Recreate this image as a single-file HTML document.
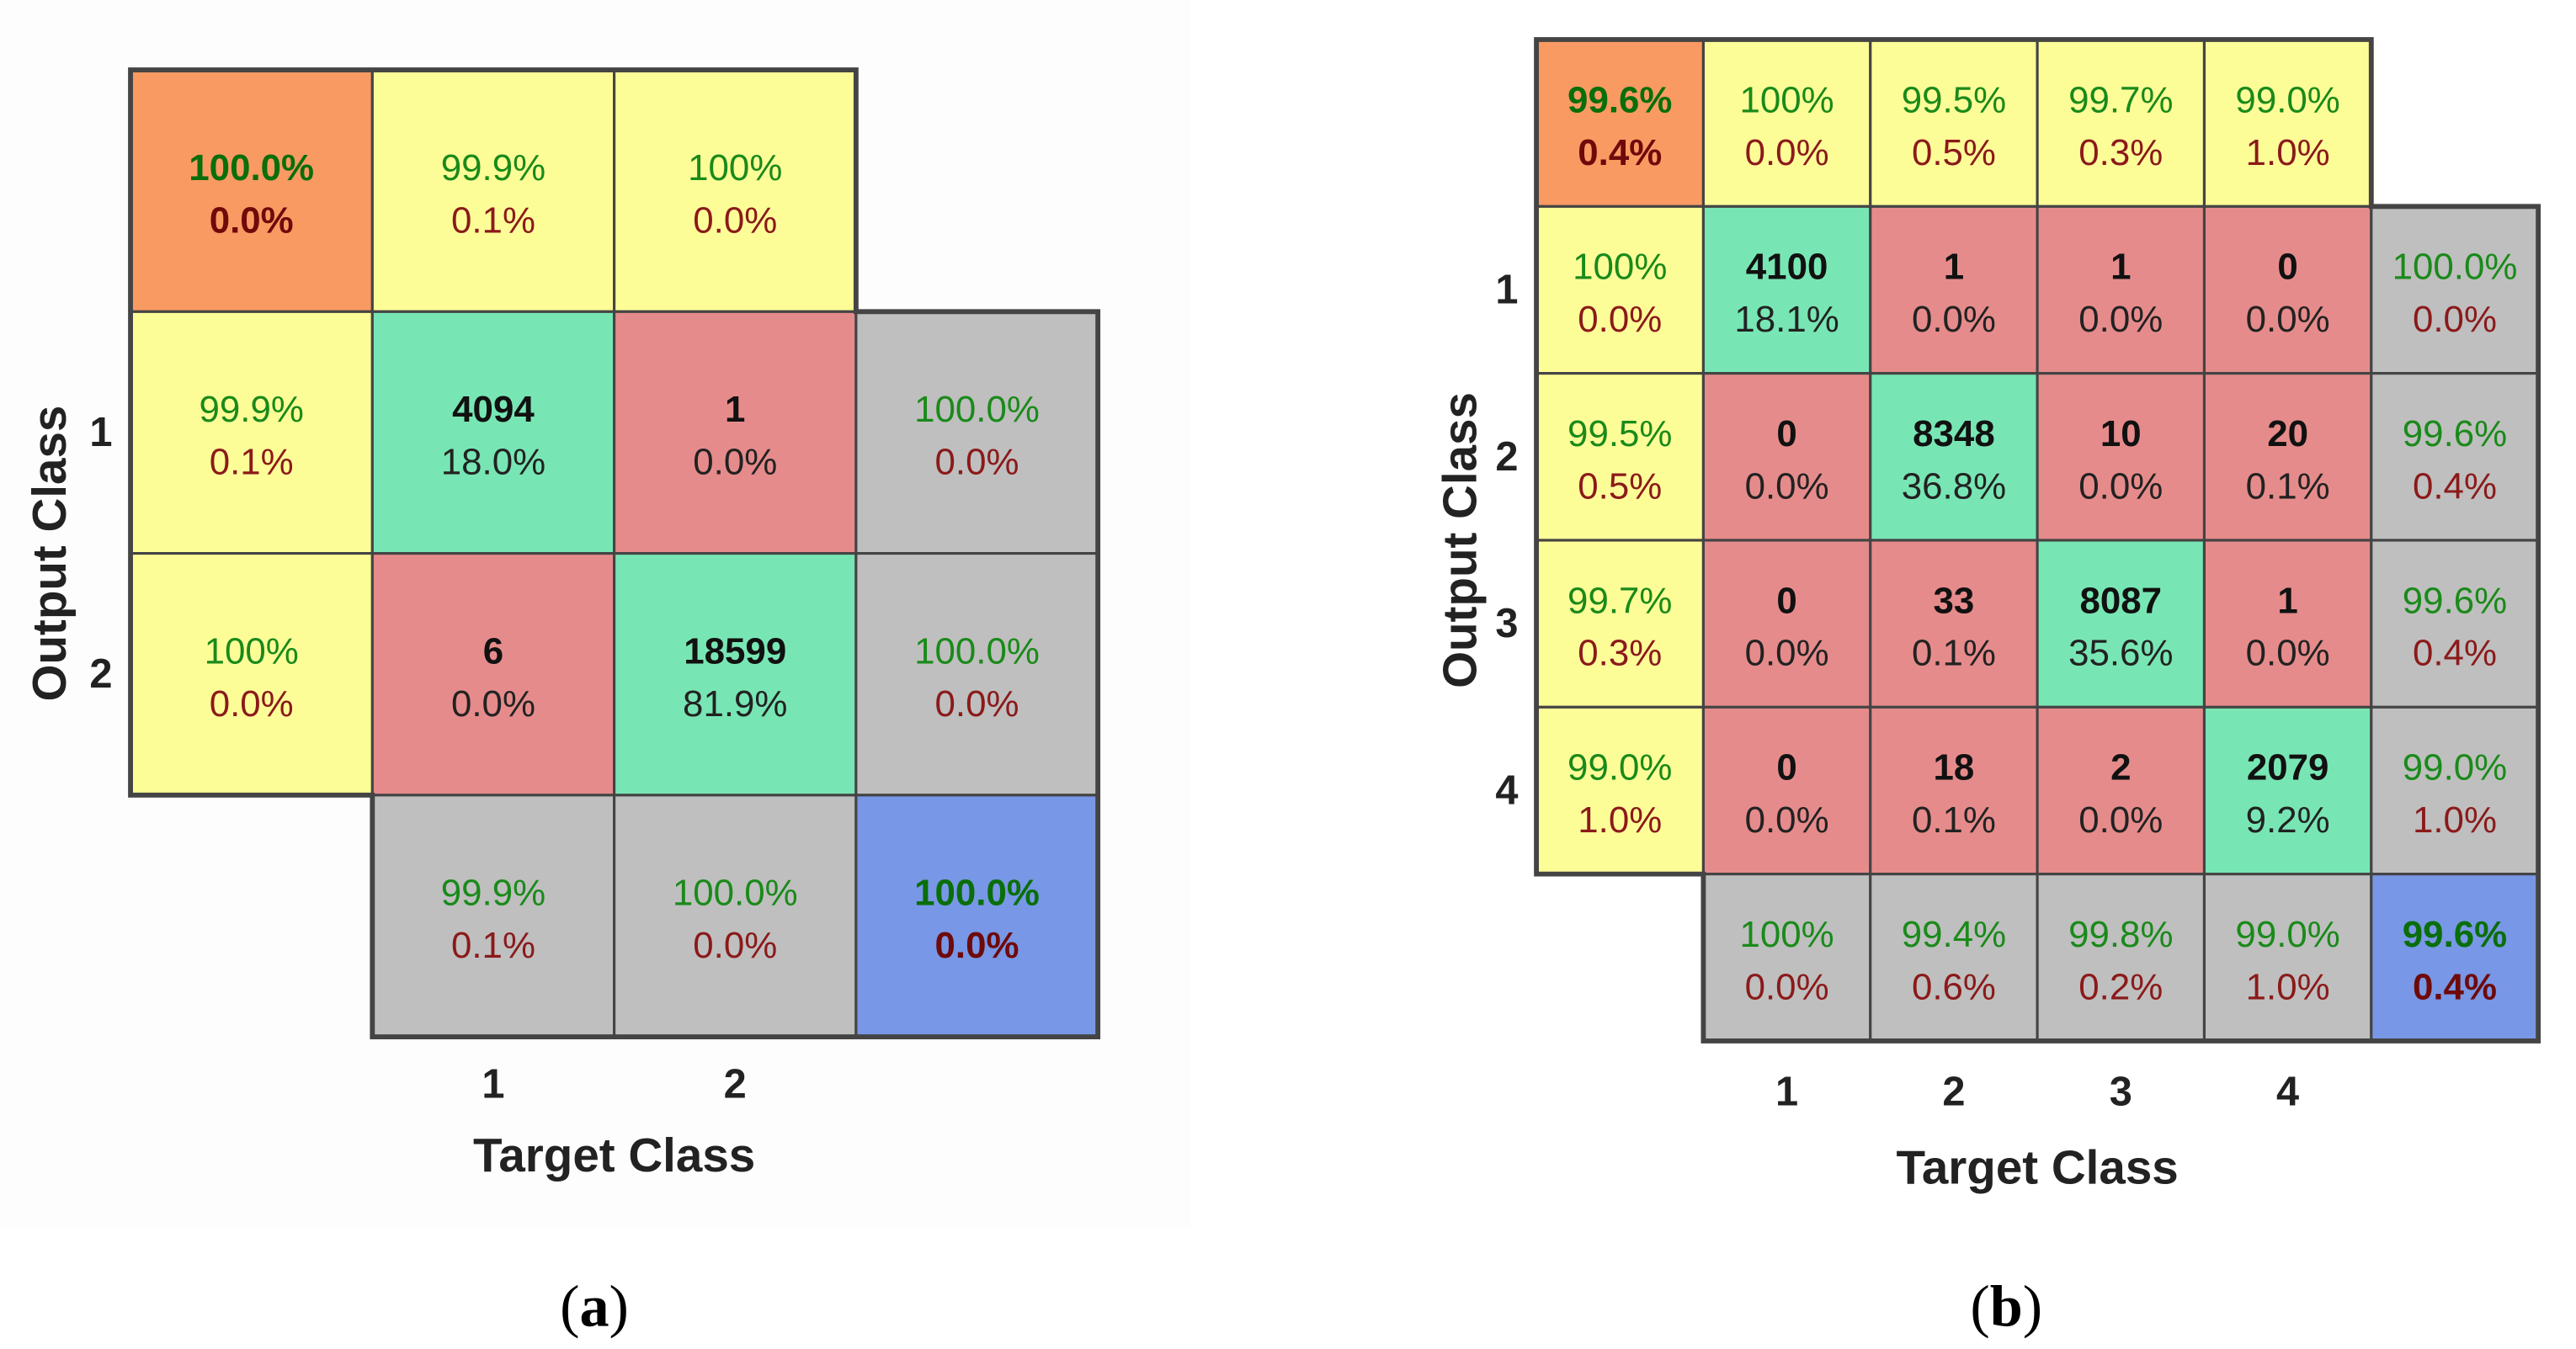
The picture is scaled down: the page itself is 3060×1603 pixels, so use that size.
<!DOCTYPE html>
<html><head><meta charset="utf-8"><style>
html,body{margin:0;padding:0;background:#fff;}
svg{display:block;}
text{font-family:"Liberation Sans",Arial,sans-serif;}
</style></head><body>
<svg id="fig" width="3060" height="1603" viewBox="0 0 1569 822" preserveAspectRatio="none" xmlns="http://www.w3.org/2000/svg">
<rect x="0" y="0" width="725" height="748" fill="#fdfdfd"/>
<g id="pa"></g>
<g id="pb"></g>
<text x="362" y="808" text-anchor="middle" font-size="36" style="font-family:'Liberation Serif',serif">(<tspan font-weight="bold">a</tspan>)</text>
<text x="1222" y="808" text-anchor="middle" font-size="36" style="font-family:'Liberation Serif',serif">(<tspan font-weight="bold">b</tspan>)</text>
</svg>
<script>
// Panel A data
const classesA = ["1","2"];
const countsA = [[4094,1],[6,18599]];
const cellPctA = [["18.0%","0.0%"],["0.0%","81.9%"]];
const rowGoodA = ["100.0%","100.0%"];
const rowBadA = ["0.0%","0.0%"];
const leftGoodA = ["99.9%","100%"];
const leftBadA = ["0.1%","0.0%"];
const colGoodA = ["99.9%","100.0%"];
const colBadA = ["0.1%","0.0%"];
const topGoodA = ["99.9%","100%"];
const topBadA = ["0.1%","0.0%"];
const overallA = ["100.0%","0.0%"];
const cornerA = ["100.0%","0.0%"];
// Panel B data
const classesB = ["1","2","3","4"];
const countsB = [[4100,1,1,0],[0,8348,10,20],[0,33,8087,1],[0,18,2,2079]];
const cellPctB = [["18.1%","0.0%","0.0%","0.0%"],["0.0%","36.8%","0.0%","0.1%"],["0.0%","0.1%","35.6%","0.0%"],["0.0%","0.1%","0.0%","9.2%"]];
const rowGoodB = ["100.0%","99.6%","99.6%","99.0%"];
const rowBadB = ["0.0%","0.4%","0.4%","1.0%"];
const leftGoodB = ["100%","99.5%","99.7%","99.0%"];
const leftBadB = ["0.0%","0.5%","0.3%","1.0%"];
const colGoodB = ["100%","99.4%","99.8%","99.0%"];
const colBadB = ["0.0%","0.6%","0.2%","1.0%"];
const topGoodB = ["100%","99.5%","99.7%","99.0%"];
const topBadB = ["0.0%","0.5%","0.3%","1.0%"];
const overallB = ["99.6%","0.4%"];
const cornerB = ["99.6%","0.4%"];

const NS="http://www.w3.org/2000/svg";
function mk(tag,attrs,parent){const e=document.createElementNS(NS,tag);for(const k in attrs)e.setAttribute(k,attrs[k]);parent.appendChild(e);return e;}
const C={orange:"#fa9a63",yellow:"#fdfd98",green:"#78e6b4",red:"#e68b8b",gray:"#bfbfbf",blue:"#7897e6"};
const GT="#1a8a1a",RT="#8b1a1a";

function draw(g,o){
  const n=o.classes.length, x0=o.x0, y0=o.y0, cs=o.cs;
  const X=i=>x0+i*cs, Y=i=>y0+i*cs;
  function cell(ci,ri,fill,l1,l2,c1,c2,b1,b2,name){
    const r=mk("rect",{x:X(ci),y:Y(ri),width:cs,height:cs,fill:fill,stroke:"#444","stroke-width":1.6},g);
    
    
    const cx=X(ci)+cs/2, cy=Y(ri)+cs/2;
    const t1=mk("text",{x:cx,y:cy-14,"text-anchor":"middle","dominant-baseline":"central","font-size":22.5,fill:c1,"font-weight":b1?"bold":"normal"},g);
    t1.textContent=l1;
    
    
    const t2=mk("text",{x:cx,y:cy+18,"text-anchor":"middle","dominant-baseline":"central","font-size":22.5,fill:c2,"font-weight":b2?"bold":"normal"},g);
    t2.textContent=l2;
    
    
  }
  cell(0,0,C.orange,o.corner[0],o.corner[1],"#0a6e0a","#6e0a0a",true,true,"corner-cell");
  for(let j=0;j<n;j++) cell(j+1,0,C.yellow,o.topGood[j],o.topBad[j],GT,RT,false,false,"top-summary-"+(j+1));
  for(let i=0;i<n;i++){
    cell(0,i+1,C.yellow,o.leftGood[i],o.leftBad[i],GT,RT,false,false,"left-summary-"+(i+1));
    for(let j=0;j<n;j++){
      const diag=i===j;
      cell(j+1,i+1,diag?C.green:C.red,String(o.counts[i][j]),o.pct[i][j],"#111","#222",true,false,"cell-"+(i+1)+"-"+(j+1));
    }
    cell(n+1,i+1,C.gray,o.rowGood[i],o.rowBad[i],GT,RT,false,false,"row-summary-"+(i+1));
  }
  for(let j=0;j<n;j++) cell(j+1,n+1,C.gray,o.colGood[j],o.colBad[j],GT,RT,false,false,"col-summary-"+(j+1));
  cell(n+1,n+1,C.blue,o.overall[0],o.overall[1],"#0a6e0a","#6e0a0a",true,true,"overall-accuracy");
  const pts=[[X(0),Y(0)],[X(n+1),Y(0)],[X(n+1),Y(1)],[X(n+2),Y(1)],[X(n+2),Y(n+2)],[X(1),Y(n+2)],[X(1),Y(n+1)],[X(0),Y(n+1)]];
  const ol=mk("polygon",{points:pts.map(p=>p.join(",")).join(" "),fill:"none",stroke:"#444","stroke-width":3},g);
  
  
  for(let i=0;i<n;i++){
    const t=mk("text",{x:X(0)-18,y:Y(i+1)+cs/2,"text-anchor":"middle","dominant-baseline":"central","font-size":25,"font-weight":"bold",fill:"#222"},g);
    t.textContent=o.classes[i];
    
    
    const u=mk("text",{x:X(i+1)+cs/2,y:Y(n+2)+o.tickOff,"text-anchor":"middle","dominant-baseline":"central","font-size":25,"font-weight":"bold",fill:"#222"},g);
    u.textContent=o.classes[i];
    
    
  }
  const xt=mk("text",{x:(X(1)+X(n+1))/2,y:Y(n+2)+o.titleOff,"text-anchor":"middle","dominant-baseline":"central","font-size":29,"font-weight":"bold",fill:"#222"},g);
  xt.textContent="Target Class";
  
  
  const yc=(Y(1)+Y(n+1))/2, yx=o.ytx;
  const yt=mk("text",{x:yx,y:yc,"text-anchor":"middle","dominant-baseline":"central","font-size":29,"font-weight":"bold",fill:"#222",transform:"rotate(-90 "+yx+" "+yc+")"},g);
  yt.textContent="Output Class";
  
  
}
draw(document.getElementById('pa'),{classes:classesA,counts:countsA,pct:cellPctA,rowGood:rowGoodA,rowBad:rowBadA,leftGood:leftGoodA,leftBad:leftBadA,colGood:colGoodA,colBad:colBadA,topGood:topGoodA,topBad:topBadA,overall:overallA,corner:cornerA,x0:79.5,y0:42.6,cs:147.3,ytx:30,tickOff:29,titleOff:72});
draw(document.getElementById('pb'),{classes:classesB,counts:countsB,pct:cellPctB,rowGood:rowGoodB,rowBad:rowBadB,leftGood:leftGoodB,leftBad:leftBadB,colGood:colGoodB,colBad:colBadB,topGood:topGoodB,topBad:topBadB,overall:overallB,corner:cornerB,x0:935.8,y0:24.1,cs:101.7,ytx:889,tickOff:31,titleOff:77});
</script>
</body></html>
